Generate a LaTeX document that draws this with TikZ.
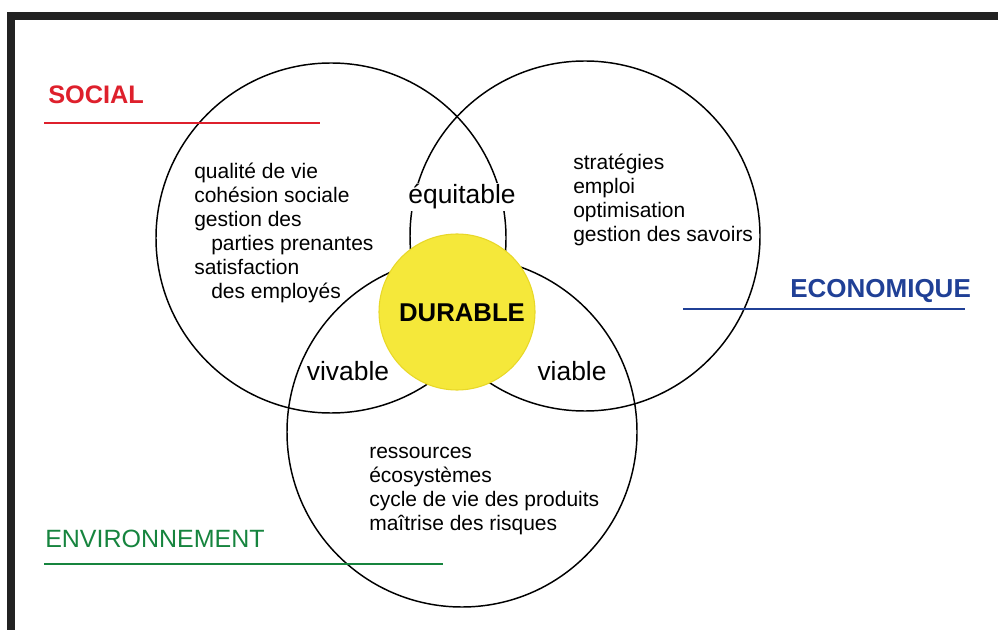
\documentclass[tikz,border=0pt]{standalone}
\usepackage{fontspec}
\setmainfont{Liberation Sans}
\definecolor{framegray}{RGB}{34,34,34}
\definecolor{socialred}{RGB}{222,32,44}
\definecolor{ecoblue}{RGB}{32,64,150}
\definecolor{envgreen}{RGB}{22,132,62}
\definecolor{durableyellow}{RGB}{245,232,58}
\definecolor{durableedge}{RGB}{232,216,40}
\tikzset{
  pillar/.style={circle,draw,line width=1.1pt,minimum size=262.5pt,inner sep=0pt},
  heading/.style={anchor=base west,inner sep=0pt,font=\fontsize{19}{22}\selectfont},
  itemlist/.style={anchor=base west,align=left,inner sep=0pt,font=\fontsize{15.75}{18}\selectfont},
  overlap/.style={anchor=base,inner sep=0pt,font=\fontsize{19.8}{22}\selectfont}
}
\begin{document}
\begin{tikzpicture}[x=0.75pt,y=-0.75pt]
\useasboundingbox (0,0) rectangle (998,630);

% frame
\fill[framegray] (7,12) rectangle (998,20);
\fill[framegray] (7,12) rectangle (15,630);

% the three pillars
\node[pillar] (social) at (331,238) {};
\node[pillar] (economic) at (585,236) {};
\node[pillar] (environment) at (462,432) {};

% centre
\node[circle,fill=durableyellow,draw=durableedge,line width=0.8pt,minimum size=117pt,inner sep=0pt] (durable) at (457,312) {};
\node[overlap,font=\fontsize{19.3}{22}\selectfont\bfseries] (durabletext) at (462,322) {DURABLE};

% overlaps
\node[overlap,fill=white,inner sep=1pt] (equitable) at (462,204) {équitable};
\node[overlap] (vivable) at (348,380) {vivable};
\node[overlap] (viable) at (572,380) {viable};

% headings
\node[heading,text=socialred,font=\fontsize{19}{22}\selectfont\bfseries] (socialtitle) at (48,104) {SOCIAL};
\node[heading,text=ecoblue,font=\fontsize{19.5}{22}\selectfont\bfseries] (ecotitle) at (790,298) {ECONOMIQUE};
\node[heading,text=envgreen,font=\fontsize{18.75}{22}\selectfont] (envtitle) at (45,547) {ENVIRONNEMENT};

\coordinate (socialA) at (44,123);
\coordinate (socialB) at (320,123);
\coordinate (ecoA) at (683,309);
\coordinate (ecoB) at (965,309);
\coordinate (envA) at (44,564);
\coordinate (envB) at (443,564);
\draw[socialred,line width=1.2pt] (socialA) -- (socialB);
\draw[ecoblue,line width=1.2pt] (ecoA) -- (ecoB);
\draw[envgreen,line width=1.2pt] (envA) -- (envB);

% lists (anchored on the baseline of their last line)
\node[itemlist] (socialitems) at (194,299) {qualité de vie\\cohésion sociale\\gestion des\\\hspace*{12.75pt}parties prenantes\\satisfaction\\\hspace*{12.75pt}des employés};
\node[itemlist] (ecoitems) at (573,242) {stratégies\\emploi\\optimisation\\gestion des savoirs};
\node[itemlist] (envitems) at (369,530) {ressources\\écosystèmes\\cycle de vie des produits\\maîtrise des risques};

\end{tikzpicture}
\end{document}
